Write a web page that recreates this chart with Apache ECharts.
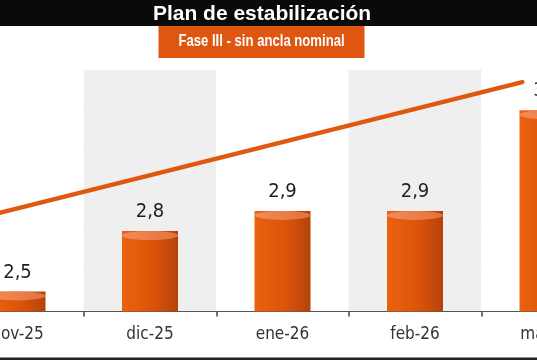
<!DOCTYPE html>
<html>
<head>
<meta charset="utf-8">
<script src="https://cdn.jsdelivr.net/npm/echarts@6/dist/echarts.min.js"></script>
<style>
html,body{margin:0;padding:0;background:#fff;}
#c{width:537px;height:360px;}
</style>
</head>
<body>
<div id="c"></div>
<script>
var titleText = 'Plan de estabilización';
var subtitleText = 'Fase III - sin ancla nominal';
var categories = ['nov-25', 'dic-25', 'ene-26', 'feb-26', 'mar-26'];
var barValues = [2.5, 2.8, 2.9, 2.9, 3.4];
var barLabels = ['2,5', '2,8', '2,9', '2,9', '3,4'];
var lineMonths = [-0.5, 3.81];
var lineValues = [2.83, 3.54];
var yMin = 2.4, yMax = 3.6, yStep = 0.2;

var NARROW = '"DejaVu Sans Condensed", "Liberation Sans Narrow", sans-serif';
var colBg = ['#ffffff', '#efefef'];

var chart = echarts.init(document.getElementById('c'));

var barGrad = new echarts.graphic.LinearGradient(0, 0, 1, 0, [
  {offset: 0, color: '#ea620f'},
  {offset: 0.55, color: '#dc5409'},
  {offset: 1, color: '#b5430b'}
]);
var topGrad = new echarts.graphic.LinearGradient(0, 0, 1, 0, [
  {offset: 0, color: '#f38b58'},
  {offset: 1, color: '#e2723c'}
]);

chart.setOption({
  animation: false,
  backgroundColor: '#ffffff',
  grid: {left: -48.75, right: -76.75, top: 70, bottom: 48.5, containLabel: false, outerBoundsMode: 'none'},
  xAxis: [{
    type: 'category',
    data: categories,
    boundaryGap: true,
    axisLine: {show: true, lineStyle: {color: '#555', width: 1}},
    axisTick: {show: true, length: 5, lineStyle: {color: '#444', width: 1.5}},
    axisLabel: {color: '#333', fontFamily: NARROW, fontSize: 17, margin: 15},
    splitArea: {show: true, areaStyle: {color: colBg}},
    splitLine: {show: false}
  }, {
    type: 'value',
    min: -0.5, max: 4.5,
    show: false
  }],
  yAxis: {
    type: 'value',
    min: yMin, max: yMax, interval: yStep,
    axisLine: {show: false},
    axisTick: {show: false},
    axisLabel: {show: false},
    splitLine: {show: true, lineStyle: {color: '#9a9a9a', width: 1}}
  },
  series: [{
    type: 'bar',
    data: barValues.map(function (v, i) {
      return {
        value: v,
        label: {backgroundColor: colBg[i % 2]}
      };
    }),
    barWidth: 56,
    itemStyle: {color: barGrad},
    label: {
      show: true,
      position: 'top',
      distance: 7,
      formatter: function (p) { return barLabels[p.dataIndex]; },
      fontFamily: NARROW,
      fontSize: 20,
      color: '#1e1e1e',
      padding: [1, 11],
      lineHeight: 22
    },
    z: 2
  }, {
    type: 'pictorialBar',
    data: barValues,
    symbol: 'circle',
    symbolSize: [56, 9],
    symbolPosition: 'end',
    symbolOffset: [0, 0],
    itemStyle: {color: topGrad},
    silent: true,
    z: 3
  }, {
    type: 'line',
    xAxisIndex: 1,
    data: lineMonths.map(function (m, i) { return [m, lineValues[i]]; }),
    symbol: 'none',
    lineStyle: {color: '#e1570f', width: 4.5, cap: 'round'},
    z: 4
  }],
  graphic: [
    {type: 'rect', shape: {x: 0, y: 0, width: 537, height: 26}, style: {fill: '#0a0a0a'}, z: 10},
    {type: 'rect', shape: {x: 158.5, y: 26, width: 206, height: 32}, style: {fill: '#de560f'}, z: 10},
    {type: 'text', x: 262, y: 14, style: {text: titleText, fill: '#ffffff', font: 'bold 21px "Liberation Sans", Arial, sans-serif', textAlign: 'center', textVerticalAlign: 'middle'}, z: 11},
    {type: 'text', x: 261.5, y: 42, scaleX: 0.82, style: {text: subtitleText, fill: '#ffffff', font: 'bold 16px "Liberation Sans", Arial, sans-serif', textAlign: 'center', textVerticalAlign: 'middle'}, z: 11},
    {type: 'rect', shape: {x: 0, y: 357.5, width: 537, height: 3}, style: {fill: '#222'}, z: 10}
  ]
});
</script>
</body>
</html>
